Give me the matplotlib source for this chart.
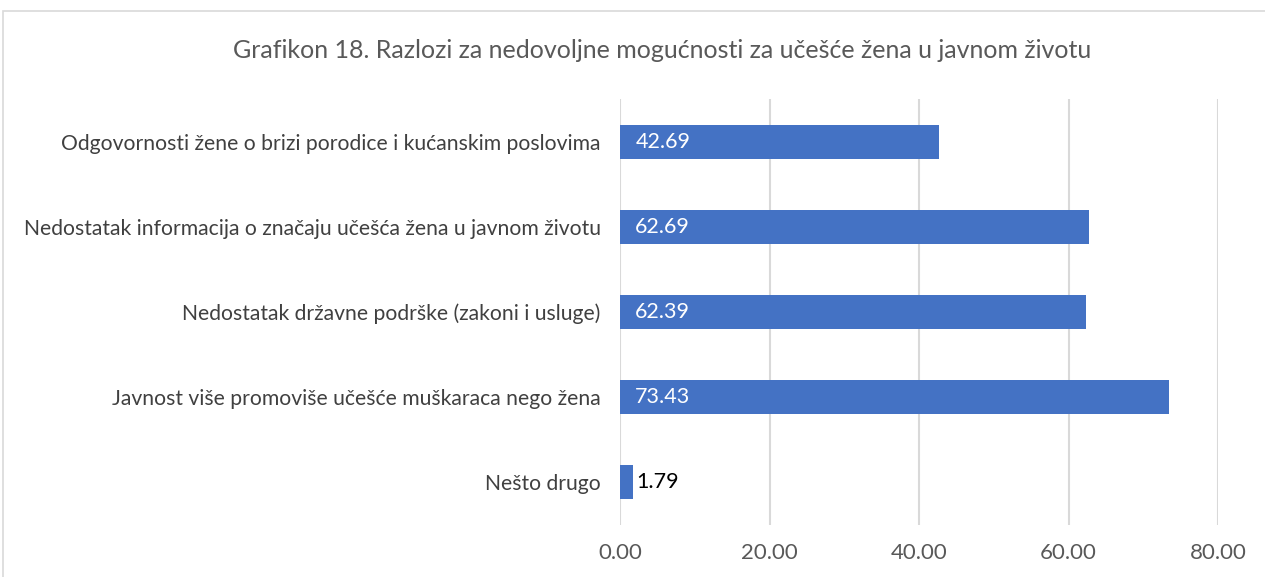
import matplotlib
matplotlib.use("Agg")
import matplotlib.pyplot as plt
from matplotlib.patches import Rectangle

categories = [
    "Odgovornosti žene o brizi porodice i kućanskim poslovima",
    "Nedostatak informacija o značaju učešća žena u javnom životu",
    "Nedostatak državne podrške (zakoni i usluge)",
    "Javnost više promoviše učešće muškaraca nego žena",
    "Nešto drugo",
]
values = [42.69, 62.69, 62.39, 73.43, 1.79]
xticks = [0, 20, 40, 60, 80]
title = "Grafikon 18. Razlozi za nedovoljne mogućnosti za učešće žena u javnom životu"

W, H = 1265, 577
fig = plt.figure(figsize=(W / 100, H / 100), dpi=100)
plt.rcParams['font.family'] = ['Lato', 'DejaVu Sans']

# outer border
fig.patches.append(Rectangle((3 / W, -0.1), 1.2, 1 - 11 / H + 0.1, transform=fig.transFigure,
                             fill=False, edgecolor="#d9d9d9", linewidth=1.2))

ax = fig.add_axes([620 / W, 1 - 525 / H, (1218 - 620) / W, (525 - 99) / H])
bar_color = "#4472c4"
ypos = list(range(len(categories)))[::-1]
ax.barh(ypos, values, height=0.4, color=bar_color, zorder=3)
ax.set_xlim(0, 80)
ax.set_ylim(-0.5, len(categories) - 0.5)
ax.set_xticks(xticks)
ax.set_xticklabels([f"{t:.2f}" for t in xticks], fontsize=16, color="#595959")
ax.set_yticks(ypos)
ax.set_yticklabels(categories, fontsize=15.2, color="#404040")
ax.tick_params(axis="both", length=0)
ax.tick_params(axis="x", pad=13)
ax.tick_params(axis="y", pad=14)
ax.grid(axis="x", color="#d9d9d9", linewidth=1.5, zorder=0)
for s in ax.spines.values():
    s.set_visible(False)

for y, v in zip(ypos, values):
    if v > 10:
        ax.annotate(f"{v:.2f}", xy=(0, y), xytext=(11, 0), textcoords="offset points",
                    va="center", ha="left", color="white", fontsize=15.5, zorder=4)
    else:
        ax.annotate(f"{v:.2f}", xy=(v, y), xytext=(2, 0), textcoords="offset points",
                    va="center", ha="left", color="black", fontsize=15.5, zorder=4)

fig.text(662 / W, 1 - 50 / H, title, ha="center", va="center", fontsize=18, color="#595959")

fig.savefig("out.png", dpi=100)
